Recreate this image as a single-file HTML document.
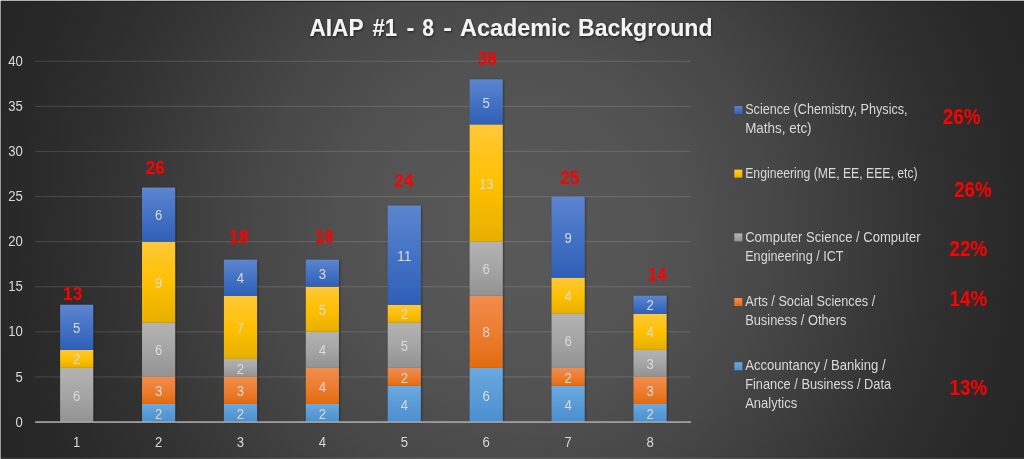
<!DOCTYPE html>
<html lang="en"><head><meta charset="utf-8"><title>AIAP #1 - 8 - Academic Background</title>
<style>html,body{margin:0;padding:0;background:#262626;overflow:hidden}svg{display:block}text{font-family:"Liberation Sans",sans-serif}</style></head><body>
<svg width="1024" height="459" viewBox="0 0 1024 459">
<defs>
<radialGradient id="bg" gradientUnits="userSpaceOnUse" cx="514" cy="232" r="540"><stop offset="0" stop-color="#595959"/><stop offset="0.244" stop-color="#545454"/><stop offset="0.34" stop-color="#505050"/><stop offset="0.41" stop-color="#4b4b4b"/><stop offset="0.474" stop-color="#484848"/><stop offset="0.772" stop-color="#313131"/><stop offset="0.92" stop-color="#292929"/><stop offset="1.0" stop-color="#262626"/></radialGradient>
<linearGradient id="g_acc" x1="0" y1="0" x2="0" y2="1"><stop offset="0" stop-color="#6aa9e1"/><stop offset="0.5" stop-color="#5b9bd5"/><stop offset="1" stop-color="#4a8fd2"/></linearGradient>
<linearGradient id="g_arts" x1="0" y1="0" x2="0" y2="1"><stop offset="0" stop-color="#f18d4e"/><stop offset="0.5" stop-color="#ed7d31"/><stop offset="1" stop-color="#e26b10"/></linearGradient>
<linearGradient id="g_cs" x1="0" y1="0" x2="0" y2="1"><stop offset="0" stop-color="#b3b3b3"/><stop offset="0.5" stop-color="#a5a5a5"/><stop offset="1" stop-color="#929292"/></linearGradient>
<linearGradient id="g_eng" x1="0" y1="0" x2="0" y2="1"><stop offset="0" stop-color="#ffc83a"/><stop offset="0.5" stop-color="#ffc000"/><stop offset="1" stop-color="#e6af00"/></linearGradient>
<linearGradient id="g_sci" x1="0" y1="0" x2="0" y2="1"><stop offset="0" stop-color="#5d85d0"/><stop offset="0.5" stop-color="#4472c4"/><stop offset="1" stop-color="#2f5fb7"/></linearGradient>
<filter id="ts" x="-5%" y="-30%" width="110%" height="170%"><feDropShadow dx="0.8" dy="1.2" stdDeviation="1" flood-color="#000" flood-opacity="0.55"/></filter>
<filter id="bs" x="-20%" y="-5%" width="140%" height="110%"><feDropShadow dx="0.8" dy="0.4" stdDeviation="1.3" flood-color="#000" flood-opacity="0.42"/></filter>
</defs>
<rect width="1024" height="459" fill="url(#bg)"/>
<rect x="1" y="1" width="1023" height="1" fill="#212121"/>
<rect x="1" y="1" width="1" height="458" fill="#222222"/>
<rect x="0" y="0" width="1024" height="1" fill="#b2b2b2"/>
<rect x="0" y="0" width="1" height="459" fill="#9e9e9e"/>
<rect x="0" y="0" width="1" height="1" fill="#dcdcdc"/>
<rect x="1" y="457.6" width="1023" height="1.4" fill="#ffffff" fill-opacity="0.09"/>
<rect x="35.2" y="376.31" width="655.8" height="1.2" fill="#ffffff" fill-opacity="0.12"/>
<rect x="35.2" y="331.23" width="655.8" height="1.2" fill="#ffffff" fill-opacity="0.12"/>
<rect x="35.2" y="286.14" width="655.8" height="1.2" fill="#ffffff" fill-opacity="0.12"/>
<rect x="35.2" y="241.06" width="655.8" height="1.2" fill="#ffffff" fill-opacity="0.12"/>
<rect x="35.2" y="195.98" width="655.8" height="1.2" fill="#ffffff" fill-opacity="0.12"/>
<rect x="35.2" y="150.89" width="655.8" height="1.2" fill="#ffffff" fill-opacity="0.12"/>
<rect x="35.2" y="105.81" width="655.8" height="1.2" fill="#ffffff" fill-opacity="0.12"/>
<rect x="35.2" y="60.72" width="655.8" height="1.2" fill="#ffffff" fill-opacity="0.12"/>
<text x="15.60" y="426.60" font-size="14" fill="#d9d9d9" textLength="7.30" lengthAdjust="spacingAndGlyphs">0</text>
<text x="15.60" y="381.52" font-size="14" fill="#d9d9d9" textLength="7.30" lengthAdjust="spacingAndGlyphs">5</text>
<text x="8.30" y="336.43" font-size="14" fill="#d9d9d9" textLength="14.60" lengthAdjust="spacingAndGlyphs">10</text>
<text x="8.30" y="291.35" font-size="14" fill="#d9d9d9" textLength="14.60" lengthAdjust="spacingAndGlyphs">15</text>
<text x="8.30" y="246.26" font-size="14" fill="#d9d9d9" textLength="14.60" lengthAdjust="spacingAndGlyphs">20</text>
<text x="8.30" y="201.18" font-size="14" fill="#d9d9d9" textLength="14.60" lengthAdjust="spacingAndGlyphs">25</text>
<text x="8.30" y="156.09" font-size="14" fill="#d9d9d9" textLength="14.60" lengthAdjust="spacingAndGlyphs">30</text>
<text x="8.30" y="111.01" font-size="14" fill="#d9d9d9" textLength="14.60" lengthAdjust="spacingAndGlyphs">35</text>
<text x="8.30" y="65.92" font-size="14" fill="#d9d9d9" textLength="14.60" lengthAdjust="spacingAndGlyphs">40</text>
<g filter="url(#bs)">
<rect x="60.11" y="367.90" width="33.1" height="54.10" fill="url(#g_cs)"/>
<rect x="60.11" y="349.86" width="33.1" height="18.03" fill="url(#g_eng)"/>
<rect x="60.11" y="304.78" width="33.1" height="45.08" fill="url(#g_sci)"/>
</g>
<text x="73.01" y="400.55" font-size="14" fill="#dadada" textLength="7.30" lengthAdjust="spacingAndGlyphs">6</text>
<text x="73.01" y="364.48" font-size="14" fill="#dadada" textLength="7.30" lengthAdjust="spacingAndGlyphs">2</text>
<text x="73.01" y="332.92" font-size="14" fill="#dadada" textLength="7.30" lengthAdjust="spacingAndGlyphs">5</text>
<text x="63.1" y="299.6" font-size="18.2" font-weight="bold" fill="#ff0000" textLength="19.2" lengthAdjust="spacingAndGlyphs">13</text>
<text x="73.01" y="447" font-size="14" fill="#d9d9d9" textLength="7.30" lengthAdjust="spacingAndGlyphs">1</text>
<g filter="url(#bs)">
<rect x="142.02" y="403.97" width="33.1" height="18.03" fill="url(#g_acc)"/>
<rect x="142.02" y="376.92" width="33.1" height="27.05" fill="url(#g_arts)"/>
<rect x="142.02" y="322.81" width="33.1" height="54.10" fill="url(#g_cs)"/>
<rect x="142.02" y="241.66" width="33.1" height="81.15" fill="url(#g_eng)"/>
<rect x="142.02" y="187.56" width="33.1" height="54.10" fill="url(#g_sci)"/>
</g>
<text x="154.92" y="418.58" font-size="14" fill="#dadada" textLength="7.30" lengthAdjust="spacingAndGlyphs">2</text>
<text x="154.92" y="396.04" font-size="14" fill="#dadada" textLength="7.30" lengthAdjust="spacingAndGlyphs">3</text>
<text x="154.92" y="355.46" font-size="14" fill="#dadada" textLength="7.30" lengthAdjust="spacingAndGlyphs">6</text>
<text x="154.92" y="287.84" font-size="14" fill="#dadada" textLength="7.30" lengthAdjust="spacingAndGlyphs">9</text>
<text x="154.92" y="220.21" font-size="14" fill="#dadada" textLength="7.30" lengthAdjust="spacingAndGlyphs">6</text>
<text x="145.7" y="173.8" font-size="18.2" font-weight="bold" fill="#ff0000" textLength="19.2" lengthAdjust="spacingAndGlyphs">26</text>
<text x="154.92" y="447" font-size="14" fill="#d9d9d9" textLength="7.30" lengthAdjust="spacingAndGlyphs">2</text>
<g filter="url(#bs)">
<rect x="223.93" y="403.97" width="33.1" height="18.03" fill="url(#g_acc)"/>
<rect x="223.93" y="376.92" width="33.1" height="27.05" fill="url(#g_arts)"/>
<rect x="223.93" y="358.88" width="33.1" height="18.03" fill="url(#g_cs)"/>
<rect x="223.93" y="295.76" width="33.1" height="63.12" fill="url(#g_eng)"/>
<rect x="223.93" y="259.69" width="33.1" height="36.07" fill="url(#g_sci)"/>
</g>
<text x="236.83" y="418.58" font-size="14" fill="#dadada" textLength="7.30" lengthAdjust="spacingAndGlyphs">2</text>
<text x="236.83" y="396.04" font-size="14" fill="#dadada" textLength="7.30" lengthAdjust="spacingAndGlyphs">3</text>
<text x="236.83" y="373.50" font-size="14" fill="#dadada" textLength="7.30" lengthAdjust="spacingAndGlyphs">2</text>
<text x="236.83" y="332.92" font-size="14" fill="#dadada" textLength="7.30" lengthAdjust="spacingAndGlyphs">7</text>
<text x="236.83" y="283.33" font-size="14" fill="#dadada" textLength="7.30" lengthAdjust="spacingAndGlyphs">4</text>
<text x="229.0" y="242.8" font-size="18.2" font-weight="bold" fill="#ff0000" textLength="19.6" lengthAdjust="spacingAndGlyphs">18</text>
<text x="236.83" y="447" font-size="14" fill="#d9d9d9" textLength="7.30" lengthAdjust="spacingAndGlyphs">3</text>
<g filter="url(#bs)">
<rect x="305.84" y="403.97" width="33.1" height="18.03" fill="url(#g_acc)"/>
<rect x="305.84" y="367.90" width="33.1" height="36.07" fill="url(#g_arts)"/>
<rect x="305.84" y="331.83" width="33.1" height="36.07" fill="url(#g_cs)"/>
<rect x="305.84" y="286.75" width="33.1" height="45.08" fill="url(#g_eng)"/>
<rect x="305.84" y="259.69" width="33.1" height="27.05" fill="url(#g_sci)"/>
</g>
<text x="318.74" y="418.58" font-size="14" fill="#dadada" textLength="7.30" lengthAdjust="spacingAndGlyphs">2</text>
<text x="318.74" y="391.53" font-size="14" fill="#dadada" textLength="7.30" lengthAdjust="spacingAndGlyphs">4</text>
<text x="318.74" y="355.46" font-size="14" fill="#dadada" textLength="7.30" lengthAdjust="spacingAndGlyphs">4</text>
<text x="318.74" y="314.89" font-size="14" fill="#dadada" textLength="7.30" lengthAdjust="spacingAndGlyphs">5</text>
<text x="318.74" y="278.82" font-size="14" fill="#dadada" textLength="7.30" lengthAdjust="spacingAndGlyphs">3</text>
<text x="314.8" y="242.8" font-size="18.2" font-weight="bold" fill="#ff0000" textLength="18.8" lengthAdjust="spacingAndGlyphs">18</text>
<text x="318.74" y="447" font-size="14" fill="#d9d9d9" textLength="7.30" lengthAdjust="spacingAndGlyphs">4</text>
<g filter="url(#bs)">
<rect x="387.76" y="385.93" width="33.1" height="36.07" fill="url(#g_acc)"/>
<rect x="387.76" y="367.90" width="33.1" height="18.03" fill="url(#g_arts)"/>
<rect x="387.76" y="322.81" width="33.1" height="45.08" fill="url(#g_cs)"/>
<rect x="387.76" y="304.78" width="33.1" height="18.03" fill="url(#g_eng)"/>
<rect x="387.76" y="205.59" width="33.1" height="99.19" fill="url(#g_sci)"/>
</g>
<text x="400.66" y="409.57" font-size="14" fill="#dadada" textLength="7.30" lengthAdjust="spacingAndGlyphs">4</text>
<text x="400.66" y="382.52" font-size="14" fill="#dadada" textLength="7.30" lengthAdjust="spacingAndGlyphs">2</text>
<text x="400.66" y="350.96" font-size="14" fill="#dadada" textLength="7.30" lengthAdjust="spacingAndGlyphs">5</text>
<text x="400.66" y="319.40" font-size="14" fill="#dadada" textLength="7.30" lengthAdjust="spacingAndGlyphs">2</text>
<text x="397.01" y="260.79" font-size="14" fill="#dadada" textLength="14.60" lengthAdjust="spacingAndGlyphs">11</text>
<text x="394.0" y="186.8" font-size="18.2" font-weight="bold" fill="#ff0000" textLength="19.6" lengthAdjust="spacingAndGlyphs">24</text>
<text x="400.66" y="447" font-size="14" fill="#d9d9d9" textLength="7.30" lengthAdjust="spacingAndGlyphs">5</text>
<g filter="url(#bs)">
<rect x="469.67" y="367.90" width="33.1" height="54.10" fill="url(#g_acc)"/>
<rect x="469.67" y="295.76" width="33.1" height="72.14" fill="url(#g_arts)"/>
<rect x="469.67" y="241.66" width="33.1" height="54.10" fill="url(#g_cs)"/>
<rect x="469.67" y="124.44" width="33.1" height="117.22" fill="url(#g_eng)"/>
<rect x="469.67" y="79.35" width="33.1" height="45.08" fill="url(#g_sci)"/>
</g>
<text x="482.57" y="400.55" font-size="14" fill="#dadada" textLength="7.30" lengthAdjust="spacingAndGlyphs">6</text>
<text x="482.57" y="337.43" font-size="14" fill="#dadada" textLength="7.30" lengthAdjust="spacingAndGlyphs">8</text>
<text x="482.57" y="274.31" font-size="14" fill="#dadada" textLength="7.30" lengthAdjust="spacingAndGlyphs">6</text>
<text x="478.92" y="188.65" font-size="14" fill="#dadada" textLength="14.60" lengthAdjust="spacingAndGlyphs">13</text>
<text x="482.57" y="107.50" font-size="14" fill="#dadada" textLength="7.30" lengthAdjust="spacingAndGlyphs">5</text>
<text x="477.7" y="64.8" font-size="18.2" font-weight="bold" fill="#ff0000" textLength="18.9" lengthAdjust="spacingAndGlyphs">38</text>
<text x="482.57" y="447" font-size="14" fill="#d9d9d9" textLength="7.30" lengthAdjust="spacingAndGlyphs">6</text>
<g filter="url(#bs)">
<rect x="551.58" y="385.93" width="33.1" height="36.07" fill="url(#g_acc)"/>
<rect x="551.58" y="367.90" width="33.1" height="18.03" fill="url(#g_arts)"/>
<rect x="551.58" y="313.80" width="33.1" height="54.10" fill="url(#g_cs)"/>
<rect x="551.58" y="277.73" width="33.1" height="36.07" fill="url(#g_eng)"/>
<rect x="551.58" y="196.58" width="33.1" height="81.15" fill="url(#g_sci)"/>
</g>
<text x="564.48" y="409.57" font-size="14" fill="#dadada" textLength="7.30" lengthAdjust="spacingAndGlyphs">4</text>
<text x="564.48" y="382.52" font-size="14" fill="#dadada" textLength="7.30" lengthAdjust="spacingAndGlyphs">2</text>
<text x="564.48" y="346.45" font-size="14" fill="#dadada" textLength="7.30" lengthAdjust="spacingAndGlyphs">6</text>
<text x="564.48" y="301.36" font-size="14" fill="#dadada" textLength="7.30" lengthAdjust="spacingAndGlyphs">4</text>
<text x="564.48" y="242.75" font-size="14" fill="#dadada" textLength="7.30" lengthAdjust="spacingAndGlyphs">9</text>
<text x="559.9" y="183.7" font-size="18.2" font-weight="bold" fill="#ff0000" textLength="19.6" lengthAdjust="spacingAndGlyphs">25</text>
<text x="564.48" y="447" font-size="14" fill="#d9d9d9" textLength="7.30" lengthAdjust="spacingAndGlyphs">7</text>
<g filter="url(#bs)">
<rect x="633.49" y="403.97" width="33.1" height="18.03" fill="url(#g_acc)"/>
<rect x="633.49" y="376.92" width="33.1" height="27.05" fill="url(#g_arts)"/>
<rect x="633.49" y="349.86" width="33.1" height="27.05" fill="url(#g_cs)"/>
<rect x="633.49" y="313.80" width="33.1" height="36.07" fill="url(#g_eng)"/>
<rect x="633.49" y="295.76" width="33.1" height="18.03" fill="url(#g_sci)"/>
</g>
<text x="646.39" y="418.58" font-size="14" fill="#dadada" textLength="7.30" lengthAdjust="spacingAndGlyphs">2</text>
<text x="646.39" y="396.04" font-size="14" fill="#dadada" textLength="7.30" lengthAdjust="spacingAndGlyphs">3</text>
<text x="646.39" y="368.99" font-size="14" fill="#dadada" textLength="7.30" lengthAdjust="spacingAndGlyphs">3</text>
<text x="646.39" y="337.43" font-size="14" fill="#dadada" textLength="7.30" lengthAdjust="spacingAndGlyphs">4</text>
<text x="646.39" y="310.38" font-size="14" fill="#dadada" textLength="7.30" lengthAdjust="spacingAndGlyphs">2</text>
<text x="647.4" y="281.4" font-size="18.2" font-weight="bold" fill="#ff0000" textLength="19.4" lengthAdjust="spacingAndGlyphs">14</text>
<text x="646.39" y="447" font-size="14" fill="#d9d9d9" textLength="7.30" lengthAdjust="spacingAndGlyphs">8</text>
<rect x="35.2" y="421.25" width="655.8" height="1.65" fill="#a6a6a6"/>
<text y="35.8" font-size="23" font-weight="bold" fill="#f4f4f4" filter="url(#ts)"><tspan x="309.5" textLength="53.6" lengthAdjust="spacingAndGlyphs">AIAP</tspan> <tspan x="372.5" textLength="24.5" lengthAdjust="spacingAndGlyphs">#1</tspan> <tspan x="406.5" textLength="7.8" lengthAdjust="spacingAndGlyphs">-</tspan> <tspan x="422.3" textLength="11.7" lengthAdjust="spacingAndGlyphs">8</tspan> <tspan x="443.2" textLength="8.7" lengthAdjust="spacingAndGlyphs">-</tspan> <tspan x="460" textLength="110.5" lengthAdjust="spacingAndGlyphs">Academic</tspan> <tspan x="578" textLength="134.5" lengthAdjust="spacingAndGlyphs">Background</tspan></text>
<rect x="734.3" y="106.1" width="8" height="8" fill="url(#g_sci)"/>
<text x="745.2" y="114.2" font-size="14.1" fill="#d9d9d9" textLength="162.4" lengthAdjust="spacingAndGlyphs">Science (Chemistry, Physics,</text>
<text x="745.2" y="133.0" font-size="14.1" fill="#d9d9d9" textLength="66.4" lengthAdjust="spacingAndGlyphs">Maths, etc)</text>
<rect x="734.3" y="169.6" width="8" height="8" fill="url(#g_eng)"/>
<text x="745.2" y="177.9" font-size="14.1" fill="#d9d9d9" textLength="172.4" lengthAdjust="spacingAndGlyphs">Engineering (ME, EE, EEE, etc)</text>
<rect x="734.3" y="233.4" width="8" height="8" fill="url(#g_cs)"/>
<text x="745.2" y="242.2" font-size="14.1" fill="#d9d9d9" textLength="175.4" lengthAdjust="spacingAndGlyphs">Computer Science / Computer</text>
<text x="745.2" y="261.0" font-size="14.1" fill="#d9d9d9" textLength="98.4" lengthAdjust="spacingAndGlyphs">Engineering / ICT</text>
<rect x="734.3" y="298.0" width="8" height="8" fill="url(#g_arts)"/>
<text x="745.2" y="306.1" font-size="14.1" fill="#d9d9d9" textLength="130.0" lengthAdjust="spacingAndGlyphs">Arts / Social Sciences /</text>
<text x="745.2" y="324.7" font-size="14.1" fill="#d9d9d9" textLength="101.2" lengthAdjust="spacingAndGlyphs">Business / Others</text>
<rect x="734.3" y="362.3" width="8" height="8" fill="url(#g_acc)"/>
<text x="745.2" y="370.3" font-size="14.1" fill="#d9d9d9" textLength="140.4" lengthAdjust="spacingAndGlyphs">Accountancy / Banking /</text>
<text x="745.2" y="389.3" font-size="14.1" fill="#d9d9d9" textLength="145.9" lengthAdjust="spacingAndGlyphs">Finance / Business / Data</text>
<text x="745.2" y="407.6" font-size="14.1" fill="#d9d9d9" textLength="52.0" lengthAdjust="spacingAndGlyphs">Analytics</text>
<text x="942.7" y="124" font-size="22" font-weight="bold" fill="#ff0000" textLength="37.9" lengthAdjust="spacingAndGlyphs">26%</text>
<text x="954.2" y="197" font-size="22" font-weight="bold" fill="#ff0000" textLength="37.5" lengthAdjust="spacingAndGlyphs">26%</text>
<text x="949.5" y="256" font-size="22" font-weight="bold" fill="#ff0000" textLength="37.6" lengthAdjust="spacingAndGlyphs">22%</text>
<text x="949.5" y="306" font-size="22" font-weight="bold" fill="#ff0000" textLength="37.6" lengthAdjust="spacingAndGlyphs">14%</text>
<text x="949.5" y="395" font-size="22" font-weight="bold" fill="#ff0000" textLength="37.6" lengthAdjust="spacingAndGlyphs">13%</text>
</svg></body></html>
